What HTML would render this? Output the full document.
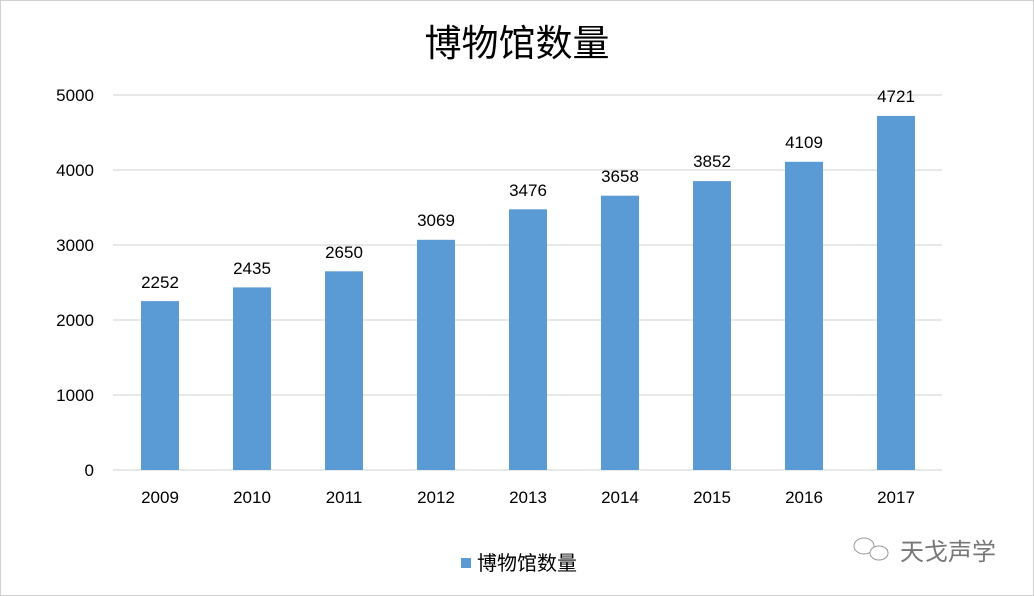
<!DOCTYPE html>
<html><head><meta charset="utf-8"><style>body{margin:0;background:#fff}svg{display:block}</style></head><body>
<svg width="1034" height="596" xmlns="http://www.w3.org/2000/svg" font-family="Liberation Sans, Noto Sans CJK SC, sans-serif">
<rect x="0.5" y="0.5" width="1033" height="595" fill="#fff" stroke="#d0d0d0"/>
<text x="517" y="56" text-anchor="middle" font-size="37" fill="#000" font-family="Noto Sans CJK SC, sans-serif">博物馆数量</text>
<g stroke="#d9d9d9" stroke-width="1.2">
<line x1="113" x2="942" y1="95" y2="95"/><line x1="113" x2="942" y1="170" y2="170"/><line x1="113" x2="942" y1="245" y2="245"/><line x1="113" x2="942" y1="320" y2="320"/><line x1="113" x2="942" y1="395" y2="395"/><line x1="113" x2="942" y1="470" y2="470"/>
</g>
<g font-size="17" fill="#000" text-anchor="end">
<text x="94" y="101">5000</text><text x="94" y="176">4000</text><text x="94" y="251">3000</text><text x="94" y="326">2000</text><text x="94" y="401">1000</text><text x="94" y="476">0</text>
</g>
<g fill="#5b9bd5">
<rect x="141" y="301.1" width="38" height="168.9"/>
<rect x="233" y="287.4" width="38" height="182.6"/>
<rect x="325" y="271.3" width="38" height="198.7"/>
<rect x="417" y="239.8" width="38" height="230.2"/>
<rect x="509" y="209.3" width="38" height="260.7"/>
<rect x="601" y="195.7" width="38" height="274.3"/>
<rect x="693" y="181.1" width="38" height="288.9"/>
<rect x="785" y="161.8" width="38" height="308.2"/>
<rect x="877" y="115.9" width="38" height="354.1"/>
</g>
<g font-size="17" fill="#000" text-anchor="middle">
<text x="160" y="288">2252</text><text x="252" y="274">2435</text><text x="344" y="258">2650</text><text x="436" y="226">3069</text><text x="528" y="196">3476</text><text x="620" y="182">3658</text><text x="712" y="167">3852</text><text x="804" y="148">4109</text><text x="896" y="102">4721</text>
<g>
<text x="160" y="503">2009</text><text x="252" y="503">2010</text><text x="344" y="503">2011</text><text x="436" y="503">2012</text><text x="528" y="503">2013</text><text x="620" y="503">2014</text><text x="712" y="503">2015</text><text x="804" y="503">2016</text><text x="896" y="503">2017</text>
</g>
</g>
<rect x="461" y="558" width="10" height="10" fill="#5b9bd5"/>
<text x="477" y="570" font-size="20" fill="#000" font-family="Noto Sans CJK SC, sans-serif">博物馆数量</text>
<g fill="none" stroke="#999" stroke-width="1">
<ellipse cx="864" cy="546" rx="10" ry="8"/><ellipse cx="879" cy="553" rx="9" ry="7" fill="#fff"/>
</g>
<text x="900" y="560" font-size="24" fill="#777" font-family="Noto Sans CJK SC, sans-serif">天戈声学</text>
</svg>
</body></html>
